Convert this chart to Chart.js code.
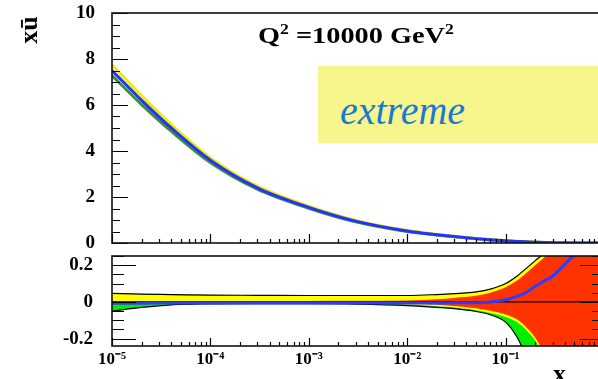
<!DOCTYPE html>
<html>
<head>
<meta charset="utf-8">
<script src="https://cdn.jsdelivr.net/npm/chart.js@4.4.1/dist/chart.umd.min.js"></script>
<style>
  html, body { margin: 0; padding: 0; width: 598px; height: 379px; overflow: hidden; background: #fff; }
  canvas { position: absolute; left: 0; }
  #topChart { top: 0; }
  #ratioChart { top: 250px; }
  .txt { position: absolute; white-space: nowrap; font-family: "Liberation Serif", serif; color: #000; }
  #title { left: 258px; top: 23px; font-size: 24px; line-height: 24px; font-weight: bold; transform: scaleX(1.18); transform-origin: left top; }
  #title sup { font-size: 15px; vertical-align: 9px; line-height: 0; }
  #ylabel { left: 29px; top: 30px; font-size: 26px; line-height: 26px; font-weight: bold; transform: translate(-50%, -50%) rotate(-90deg); }
  #xlabel { left: 553px; top: 361px; font-size: 26px; line-height: 26px; font-weight: bold; }
  #tag { position: absolute; left: 318px; top: 66px; width: 300px; height: 77px; background: #f6f68c; }
  #tag span { position: absolute; left: 22px; top: 25px; font-family: "Liberation Serif", serif; font-style: italic; font-size: 40px; line-height: 40px; color: #1a7ad0; }
</style>
</head>
<body>
<canvas id="topChart" width="620" height="250"></canvas>
<canvas id="ratioChart" width="620" height="129"></canvas>
<div id="tag"><span>extreme</span></div>
<div class="txt" id="title">Q<sup>2</sup> =10000 GeV<sup>2</sup></div>
<div class="txt" id="ylabel">xū</div>
<div class="txt" id="xlabel">x</div>
<script>
const xPoints = [1e-5, 2e-5, 4e-5, 1e-4, 3e-4, 1e-3, 3e-3, 0.01, 0.02, 0.03, 0.05, 0.07, 0.1, 0.13, 0.16, 0.2, 0.25, 0.3, 0.5, 1];

// upper panel: x*ubar
const xuCentral = [7.5, 6.2, 5.0, 3.6, 2.4, 1.55, 0.95, 0.52, 0.36, 0.28, 0.19, 0.14, 0.095, 0.07, 0.05, 0.035, 0.022, 0.014, 0.003, 0];
const xuUpper = [7.75, 6.4, 5.15, 3.7, 2.47, 1.6, 0.98, 0.54, 0.37, 0.29, 0.2, 0.15, 0.1, 0.075, 0.055, 0.04, 0.026, 0.017, 0.004, 0];
const xuLower = [7.28, 6.02, 4.86, 3.5, 2.34, 1.51, 0.92, 0.5, 0.35, 0.27, 0.18, 0.13, 0.088, 0.063, 0.044, 0.029, 0.017, 0.01, 0.002, 0];

// lower panel: relative uncertainty bands
const totalUp = [0.047, 0.042, 0.04, 0.037, 0.036, 0.035, 0.035, 0.035, 0.04, 0.045, 0.055, 0.07, 0.10, 0.14, 0.18, 0.225, 0.27, 0.32, 0.5, 0.7];
const totalLow = [-0.05, -0.03, -0.016, -0.011, -0.01, -0.01, -0.012, -0.02, -0.03, -0.037, -0.052, -0.07, -0.11, -0.19, -0.29, -0.42, -0.6, -0.75, -1.2, -1.5];
const modelLow = [-0.008, -0.008, -0.008, -0.008, -0.008, -0.008, -0.009, -0.014, -0.024, -0.031, -0.045, -0.06, -0.082, -0.11, -0.15, -0.21, -0.3, -0.38, -0.65, -0.85];
const expUp = [0.003, 0.003, 0.003, 0.004, 0.004, 0.005, 0.006, 0.008, 0.015, 0.022, 0.033, 0.05, 0.08, 0.115, 0.155, 0.2, 0.245, 0.29, 0.47, 0.65];
const expLow = [-0.004, -0.004, -0.004, -0.005, -0.005, -0.005, -0.006, -0.008, -0.016, -0.022, -0.034, -0.048, -0.068, -0.095, -0.135, -0.195, -0.28, -0.35, -0.6, -0.8];
const ratioCentral = [-0.007, -0.007, -0.006, -0.006, -0.006, -0.006, -0.006, -0.006, -0.006, -0.005, -0.004, 0.0, 0.012, 0.03, 0.05, 0.085, 0.115, 0.14, 0.255, 0.35];
const zeroX = [1e-5, 1];
const zeroY = [0, 0];

// tick labels
const xDecadeLabels = ['10⁻⁵', '10⁻⁴', '10⁻³', '10⁻²', '10⁻¹'];
const topYLabels = [0, 2, 4, 6, 8, 10];
const ratioYValues = [-0.2, 0, 0.2];
const ratioYLabels = ['-0.2', '0', '0.2'];

Chart.defaults.font.family = '"Liberation Serif", serif';
Chart.defaults.font.weight = 'bold';
Chart.defaults.color = '#000';

function pts(ys, xs) {
  xs = xs || xPoints;
  return xs.map((x, i) => ({ x: x, y: ys[i] }));
}

function curve(ys, color, width, extra) {
  return Object.assign({
    data: pts(ys),
    borderColor: color,
    borderWidth: width,
    pointRadius: 0,
    fill: false,
    cubicInterpolationMode: 'monotone'
  }, extra || {});
}

function band(ys, fillColor) {
  return curve(ys, 'rgba(0,0,0,0)', 0, { fill: '+1', backgroundColor: fillColor });
}

function onStep(v, step) {
  return Math.abs(v / step - Math.round(v / step)) < 1e-6;
}

// fixed axis sizes, no extra room for the labels sticking out
function fixWidth(w) {
  return s => { s.width = w; s.paddingTop = 0; s.paddingBottom = 0; };
}
function fixHeight(h) {
  return s => { s.height = h; s.paddingLeft = 0; s.paddingRight = 0; };
}

// ROOT style frame with ticks pointing inwards
const frameTicks = {
  id: 'frameTicks',
  afterDatasetsDraw(chart, args, opts) {
    const { ctx, chartArea: a, scales } = chart;
    ctx.save();
    ctx.strokeStyle = '#000';
    ctx.lineWidth = 1.2;
    ctx.beginPath();
    scales.y.ticks.forEach(t => {
      if (!onStep(t.value, opts.yMinor)) return;
      const len = onStep(t.value, opts.yMajor) ? opts.yMajorLen : opts.yMinorLen;
      const py = Math.round(scales.y.getPixelForValue(t.value)) + 0.5;
      ctx.moveTo(a.left, py);
      ctx.lineTo(a.left + len, py);
      if (opts.rightTicks) {
        ctx.moveTo(a.right, py);
        ctx.lineTo(a.right - len, py);
      }
    });
    scales.x.ticks.forEach(t => {
      const e = Math.floor(Math.log10(t.value) + 1e-9);
      const m = t.value / Math.pow(10, e);
      if (Math.abs(m - Math.round(m)) > 1e-6) return;
      const len = Math.round(m) === 1 ? opts.xMajorLen : opts.xMinorLen;
      const px = Math.round(scales.x.getPixelForValue(t.value)) + 0.5;
      ctx.moveTo(px, a.bottom);
      ctx.lineTo(px, a.bottom - len);
    });
    ctx.stroke();
    ctx.lineWidth = 1.6;
    ctx.strokeStyle = '#111';
    ctx.strokeRect(a.left, a.top, a.right - a.left, a.bottom - a.top);
    ctx.restore();
  }
};

const hidden = { display: false, drawTicks: false };

// upper panel
new Chart(document.getElementById('topChart'), {
  type: 'line',
  data: {
    datasets: [
      curve(xuCentral, '#2233ff', 3),
      curve(xuUpper, '#eded00', 3),
      curve(xuLower, '#3d8f3d', 3)
    ]
  },
  options: {
    responsive: false,
    animation: false,
    devicePixelRatio: 1,
    layout: { padding: { top: 13, right: 16, left: 0, bottom: 0 } },
    plugins: {
      legend: { display: false },
      tooltip: { enabled: false },
      frameTicks: { yMinor: 0.5, yMajor: 2, yMajorLen: 16, yMinorLen: 8, xMajorLen: 9, xMinorLen: 4, rightTicks: false }
    },
    scales: {
      x: {
        type: 'logarithmic', min: 1e-5, max: 1,
        grid: hidden, border: { display: false },
        ticks: { display: false, autoSkip: false },
        afterFit: fixHeight(7)
      },
      y: {
        min: 0, max: 10,
        grid: hidden, border: { display: false },
        ticks: {
          stepSize: 0.5, autoSkip: false, padding: 17,
          font: { size: 19, weight: 'bold' },
          callback: v => topYLabels.includes(v) ? String(v) : ''
        },
        afterFit: fixWidth(112)
      }
    }
  },
  plugins: [frameTicks]
});

// lower panel
new Chart(document.getElementById('ratioChart'), {
  type: 'line',
  data: {
    datasets: [
      curve(ratioCentral, '#2b3cff', 3),
      Object.assign(curve(zeroY, '#000', 1.2), { data: pts(zeroY, zeroX) }),
      band(expUp, '#ff3300'),
      curve(expLow, 'rgba(0,0,0,0)', 0),
      band(totalUp, '#ffff00'),
      curve(modelLow, 'rgba(0,0,0,0)', 0),
      curve(totalUp, '#000', 1.2, { fill: '+1', backgroundColor: '#00ee00' }),
      curve(totalLow, '#000', 1.2)
    ]
  },
  options: {
    responsive: false,
    animation: false,
    devicePixelRatio: 1,
    layout: { padding: { top: 6, right: 16, left: 0, bottom: 0 } },
    plugins: {
      legend: { display: false },
      tooltip: { enabled: false },
      filler: { drawTime: 'beforeDatasetsDraw' },
      frameTicks: { yMinor: 0.05, yMajor: 0.2, yMajorLen: 24, yMinorLen: 12, xMajorLen: 8, xMinorLen: 4, rightTicks: true }
    },
    scales: {
      x: {
        type: 'logarithmic', min: 1e-5, max: 1,
        grid: hidden, border: { display: false },
        ticks: {
          autoSkip: false, maxRotation: 0, padding: 3,
          font: { size: 17, weight: 'bold' },
          callback: v => {
            const e = Math.log10(v);
            const k = Math.round(e) + 5;
            return Math.abs(e - Math.round(e)) < 1e-9 && k >= 0 && k < xDecadeLabels.length ? xDecadeLabels[k] : '';
          }
        },
        afterFit: fixHeight(33)
      },
      y: {
        min: -0.24, max: 0.25,
        grid: hidden, border: { display: false },
        ticks: {
          stepSize: 0.05, autoSkip: false, includeBounds: false, padding: 19,
          font: { size: 19, weight: 'bold' },
          callback: v => {
            const k = ratioYValues.findIndex(r => Math.abs(r - v) < 1e-9);
            return k < 0 ? '' : ratioYLabels[k];
          }
        },
        afterFit: fixWidth(112)
      }
    }
  },
  plugins: [frameTicks]
});
</script>
</body>
</html>
